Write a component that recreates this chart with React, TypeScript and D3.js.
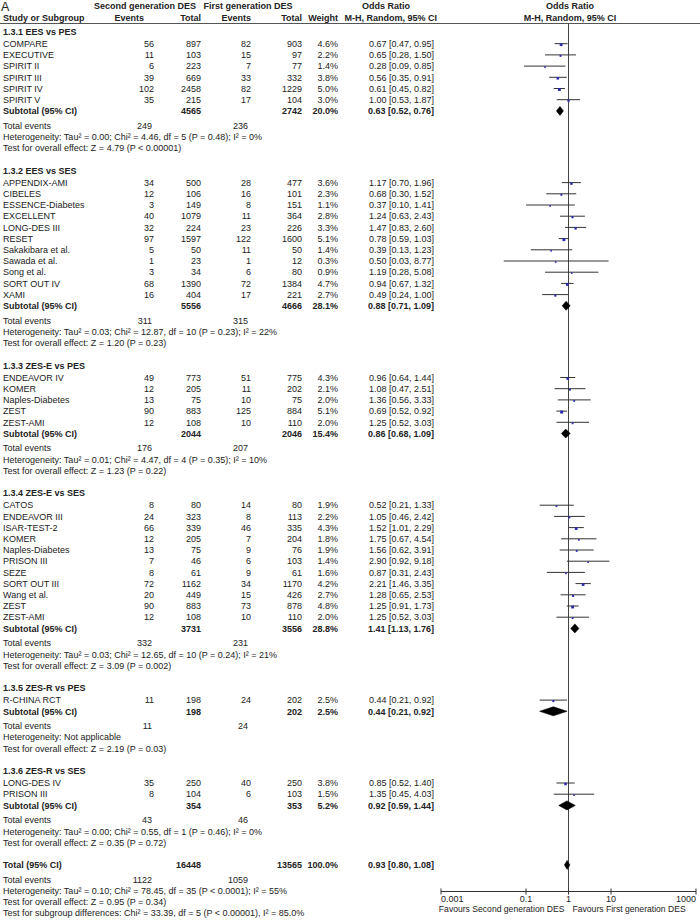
import React from 'react';
import * as d3 from 'd3';

// subgroup titles
const groupTitles = [
  '1.3.1 EES vs PES',
  '1.3.2 EES vs SES',
  '1.3.3 ZES-E vs PES',
  '1.3.4 ZES-E vs SES',
  '1.3.5 ZES-R vs PES',
  '1.3.6 ZES-R vs SES',
];

const studyNames = [
  ['COMPARE', 'EXECUTIVE', 'SPIRIT II', 'SPIRIT III', 'SPIRIT IV', 'SPIRIT V'],
  ['APPENDIX-AMI', 'CIBELES', 'ESSENCE-Diabetes', 'EXCELLENT', 'LONG-DES III', 'RESET',
    'Sakakibara et al.', 'Sawada et al.', 'Song et al.', 'SORT OUT IV', 'XAMI'],
  ['ENDEAVOR IV', 'KOMER', 'Naples-Diabetes', 'ZEST', 'ZEST-AMI'],
  ['CATOS', 'ENDEAVOR III', 'ISAR-TEST-2', 'KOMER', 'Naples-Diabetes', 'PRISON III', 'SEZE',
    'SORT OUT III', 'Wang et al.', 'ZEST', 'ZEST-AMI'],
  ['R-CHINA RCT'],
  ['LONG-DES IV', 'PRISON III'],
];

// second generation DES
const eventsSecond = [
  [56, 11, 6, 39, 102, 35],
  [34, 12, 3, 40, 32, 97, 5, 1, 3, 68, 16],
  [49, 12, 13, 90, 12],
  [8, 24, 66, 12, 13, 7, 8, 72, 20, 90, 12],
  [11],
  [35, 8],
];
const totalSecond = [
  [897, 103, 223, 669, 2458, 215],
  [500, 106, 149, 1079, 224, 1597, 50, 23, 34, 1390, 404],
  [773, 205, 75, 883, 108],
  [80, 323, 339, 205, 75, 46, 61, 1162, 449, 883, 108],
  [198],
  [250, 104],
];

// first generation DES
const eventsFirst = [
  [82, 15, 7, 33, 82, 17],
  [28, 16, 8, 11, 23, 122, 11, 1, 6, 72, 17],
  [51, 11, 10, 125, 10],
  [14, 8, 46, 7, 9, 6, 9, 34, 15, 73, 10],
  [24],
  [40, 6],
];
const totalFirst = [
  [903, 97, 77, 332, 1229, 104],
  [477, 101, 151, 364, 226, 1600, 50, 12, 80, 1384, 221],
  [775, 202, 75, 884, 110],
  [80, 113, 335, 204, 76, 103, 61, 1170, 426, 878, 110],
  [202],
  [250, 103],
];

const weights = [
  [4.6, 2.2, 1.4, 3.8, 5.0, 3.0],
  [3.6, 2.3, 1.1, 2.8, 3.3, 5.1, 1.4, 0.3, 0.9, 4.7, 2.7],
  [4.3, 2.1, 2.0, 5.1, 2.0],
  [1.9, 2.2, 4.3, 1.8, 1.9, 1.4, 1.6, 4.2, 2.7, 4.8, 2.0],
  [2.5],
  [3.8, 1.5],
];

const oddsRatio = [
  [0.67, 0.65, 0.28, 0.56, 0.61, 1.0],
  [1.17, 0.68, 0.37, 1.24, 1.47, 0.78, 0.39, 0.5, 1.19, 0.94, 0.49],
  [0.96, 1.08, 1.36, 0.69, 1.25],
  [0.52, 1.05, 1.52, 1.75, 1.56, 2.9, 0.87, 2.21, 1.28, 1.25, 1.25],
  [0.44],
  [0.85, 1.35],
];
const ciLower = [
  [0.47, 0.28, 0.09, 0.35, 0.45, 0.53],
  [0.7, 0.3, 0.1, 0.63, 0.83, 0.59, 0.13, 0.03, 0.28, 0.67, 0.24],
  [0.64, 0.47, 0.56, 0.52, 0.52],
  [0.21, 0.46, 1.01, 0.67, 0.62, 0.92, 0.31, 1.46, 0.65, 0.91, 0.52],
  [0.21],
  [0.52, 0.45],
];
const ciUpper = [
  [0.95, 1.5, 0.85, 0.91, 0.82, 1.87],
  [1.96, 1.52, 1.41, 2.43, 2.6, 1.03, 1.23, 8.77, 5.08, 1.32, 1.0],
  [1.44, 2.51, 3.33, 0.92, 3.03],
  [1.33, 2.42, 2.29, 4.54, 3.91, 9.18, 2.43, 3.35, 2.53, 1.73, 3.03],
  [0.92],
  [1.4, 4.03],
];

// subtotals
const subTotalSecond = [4565, 5556, 2044, 3731, 198, 354];
const subTotalFirst = [2742, 4666, 2046, 3556, 202, 353];
const subWeight = [20.0, 28.1, 15.4, 28.8, 2.5, 5.2];
const subOR = [0.63, 0.88, 0.86, 1.41, 0.44, 0.92];
const subLower = [0.52, 0.71, 0.68, 1.13, 0.21, 0.59];
const subUpper = [0.76, 1.09, 1.09, 1.76, 0.92, 1.44];
const subEventsSecond = [249, 311, 176, 332, 11, 43];
const subEventsFirst = [236, 315, 207, 231, 24, 46];
const heterogeneity = [
  'Heterogeneity: Tau² = 0.00; Chi² = 4.46, df = 5 (P = 0.48); I² = 0%',
  'Heterogeneity: Tau² = 0.03; Chi² = 12.87, df = 10 (P = 0.23); I² = 22%',
  'Heterogeneity: Tau² = 0.01; Chi² = 4.47, df = 4 (P = 0.35); I² = 10%',
  'Heterogeneity: Tau² = 0.03; Chi² = 12.65, df = 10 (P = 0.24); I² = 21%',
  'Heterogeneity: Not applicable',
  'Heterogeneity: Tau² = 0.00; Chi² = 0.55, df = 1 (P = 0.46); I² = 0%',
];
const overallEffect = [
  'Test for overall effect: Z = 4.79 (P < 0.00001)',
  'Test for overall effect: Z = 1.20 (P = 0.23)',
  'Test for overall effect: Z = 1.23 (P = 0.22)',
  'Test for overall effect: Z = 3.09 (P = 0.002)',
  'Test for overall effect: Z = 2.19 (P = 0.03)',
  'Test for overall effect: Z = 0.35 (P = 0.72)',
];

// overall
const totalAll = [16448, 13565];
const totalWeight = 100.0;
const totalCI = [0.93, 0.8, 1.08];
const totalEventsAll = [1122, 1059];
const totalTexts = [
  'Heterogeneity: Tau² = 0.10; Chi² = 78.45, df = 35 (P < 0.0001); I² = 55%',
  'Test for overall effect: Z = 0.95 (P = 0.34)',
  'Test for subgroup differences: Chi² = 33.39, df = 5 (P < 0.00001), I² = 85.0%',
];

const axisTicks = [0.001, 0.1, 1, 10, 1000];
const favours = ['Favours Second generation DES', 'Favours First generation DES'];

const W = 700;
const H = 920;
const FONT = "'Liberation Sans', Arial, sans-serif";
const FS = 9;
const TXT = '#222';

const rowH = 11.2;
const evGap = 3.5;

const col = {
  name: 3,
  evS: 154,
  totS: 201,
  evF: 251,
  totF: 302,
  weight: 338,
  ci: 434,
  evSum: 152,
  evSumF: 248,
};

const x = d3.scaleLog().domain([0.001, 1000]).range([441, 696]);
const fmtW = (v: number) => v.toFixed(1) + '%';
const fmtCI = (o: number, l: number, u: number) => `${o.toFixed(2)} [${l.toFixed(2)}, ${u.toFixed(2)}]`;

type Row = { y: number; kind: string; g: number; i: number };

function buildRows() {
  const rows: Row[] = [];
  let y = 31.5;
  groupTitles.forEach((_, g) => {
    rows.push({ y, kind: 'head', g, i: 0 });
    y += rowH + 1;
    studyNames[g].forEach((__, i) => {
      rows.push({ y, kind: 'study', g, i });
      y += rowH;
    });
    rows.push({ y, kind: 'sub', g, i: 0 });
    y += rowH + evGap;
    rows.push({ y, kind: 'events', g, i: 0 });
    y += rowH;
    rows.push({ y, kind: 'het', g, i: 0 });
    y += rowH;
    rows.push({ y, kind: 'test', g, i: 0 });
    y += rowH * 2;
  });
  rows.push({ y, kind: 'total', g: -1, i: 0 });
  y += rowH + evGap;
  rows.push({ y, kind: 'totalEvents', g: -1, i: 0 });
  totalTexts.forEach((_, i) => {
    y += rowH;
    rows.push({ y, kind: 'totalText', g: -1, i });
  });
  return rows;
}

const T = (props: any) => (
  <text fontFamily={FONT} fontSize={FS} fill={TXT} {...props} />
);

function Diamond({ cy, o, l, u }: { cy: number; o: number; l: number; u: number }) {
  const hh = 4.5;
  const d = `M${x(l)},${cy} L${x(o)},${cy - hh} L${x(u)},${cy} L${x(o)},${cy + hh} Z`;
  return <path d={d} fill="#000" stroke="#000" strokeWidth={0.6} />;
}

export default function App() {
  const rows = buildRows();
  const bl = 3.2; // baseline offset from row centre
  const axisY = 891.5;
  const x1 = x(1);

  return (
    <svg width={W} height={H} viewBox={`0 0 ${W} ${H}`}
      style={{ position: 'absolute', left: 0, top: 0, background: '#fff' }}>
      <rect width={W} height={H} fill="#fff" />
      {/* header */}
      <text x={1} y={10.5} fontFamily={FONT} fontSize={12.5} fill={TXT}>A</text>
      <T x={145} y={9} textAnchor="middle" fontWeight="bold">Second generation DES</T>
      <T x={248} y={9} textAnchor="middle" fontWeight="bold">First generation DES</T>
      <T x={386} y={9} textAnchor="middle" fontWeight="bold">Odds Ratio</T>
      <T x={570} y={9} textAnchor="middle" fontWeight="bold">Odds Ratio</T>
      <T x={col.name} y={21} fontWeight="bold">Study or Subgroup</T>
      <T x={144} y={21} textAnchor="end" fontWeight="bold">Events</T>
      <T x={col.totS} y={21} textAnchor="end" fontWeight="bold">Total</T>
      <T x={col.evF} y={21} textAnchor="end" fontWeight="bold">Events</T>
      <T x={col.totF} y={21} textAnchor="end" fontWeight="bold">Total</T>
      <T x={col.weight} y={21} textAnchor="end" fontWeight="bold">Weight</T>
      <T x={437} y={21} textAnchor="end" fontWeight="bold">M-H, Random, 95% CI</T>
      <T x={570} y={21} textAnchor="middle" fontWeight="bold">M-H, Random, 95% CI</T>
      <line x1={0} x2={W} y1={23.5} y2={23.5} stroke="#555" strokeWidth={1} />

      {/* null line */}
      <line x1={x1} x2={x1} y1={23.5} y2={axisY} stroke="#444" strokeWidth={1} />

      {rows.map((r, k) => {
        const ty = r.y + bl;
        if (r.kind === 'head') {
          return <T key={k} x={col.name} y={ty} fontWeight="bold">{groupTitles[r.g]}</T>;
        }
        if (r.kind === 'study') {
          const g = r.g, i = r.i;
          const w = weights[g][i];
          const s = Math.max(1.6, Math.sqrt(w) * 1.3);
          return (
            <g key={k}>
              <T x={col.name} y={ty}>{studyNames[g][i]}</T>
              <T x={col.evS} y={ty} textAnchor="end">{eventsSecond[g][i]}</T>
              <T x={col.totS} y={ty} textAnchor="end">{totalSecond[g][i]}</T>
              <T x={col.evF} y={ty} textAnchor="end">{eventsFirst[g][i]}</T>
              <T x={col.totF} y={ty} textAnchor="end">{totalFirst[g][i]}</T>
              <T x={col.weight} y={ty} textAnchor="end">{fmtW(w)}</T>
              <T x={col.ci} y={ty} textAnchor="end">{fmtCI(oddsRatio[g][i], ciLower[g][i], ciUpper[g][i])}</T>
              <line x1={x(ciLower[g][i])} x2={x(ciUpper[g][i])} y1={r.y} y2={r.y} stroke="#333" strokeWidth={1} />
              <rect x={x(oddsRatio[g][i]) - s / 2} y={r.y + 1 - s / 2} width={s} height={s} fill="#2b2bb0" />
            </g>
          );
        }
        if (r.kind === 'sub') {
          const g = r.g;
          return (
            <g key={k}>
              <T x={col.name} y={ty} fontWeight="bold">Subtotal (95% CI)</T>
              <T x={col.totS} y={ty} textAnchor="end" fontWeight="bold">{subTotalSecond[g]}</T>
              <T x={col.totF} y={ty} textAnchor="end" fontWeight="bold">{subTotalFirst[g]}</T>
              <T x={col.weight} y={ty} textAnchor="end" fontWeight="bold">{fmtW(subWeight[g])}</T>
              <T x={col.ci} y={ty} textAnchor="end" fontWeight="bold">{fmtCI(subOR[g], subLower[g], subUpper[g])}</T>
              <Diamond cy={r.y} o={subOR[g]} l={subLower[g]} u={subUpper[g]} />
            </g>
          );
        }
        if (r.kind === 'events') {
          const g = r.g;
          return (
            <g key={k}>
              <T x={col.name} y={ty}>Total events</T>
              <T x={col.evSum} y={ty} textAnchor="end">{subEventsSecond[g]}</T>
              <T x={col.evSumF} y={ty} textAnchor="end">{subEventsFirst[g]}</T>
            </g>
          );
        }
        if (r.kind === 'het') return <T key={k} x={col.name} y={ty}>{heterogeneity[r.g]}</T>;
        if (r.kind === 'test') return <T key={k} x={col.name} y={ty}>{overallEffect[r.g]}</T>;
        if (r.kind === 'total') {
          return (
            <g key={k}>
              <T x={col.name} y={ty} fontWeight="bold">Total (95% CI)</T>
              <T x={col.totS} y={ty} textAnchor="end" fontWeight="bold">{totalAll[0]}</T>
              <T x={col.totF} y={ty} textAnchor="end" fontWeight="bold">{totalAll[1]}</T>
              <T x={col.weight} y={ty} textAnchor="end" fontWeight="bold">{fmtW(totalWeight)}</T>
              <T x={col.ci} y={ty} textAnchor="end" fontWeight="bold">{fmtCI(totalCI[0], totalCI[1], totalCI[2])}</T>
              <Diamond cy={r.y} o={totalCI[0]} l={totalCI[1]} u={totalCI[2]} />
            </g>
          );
        }
        if (r.kind === 'totalEvents') {
          return (
            <g key={k}>
              <T x={col.name} y={ty}>Total events</T>
              <T x={col.evSum} y={ty} textAnchor="end">{totalEventsAll[0]}</T>
              <T x={col.evSumF} y={ty} textAnchor="end">{totalEventsAll[1]}</T>
            </g>
          );
        }
        return <T key={k} x={col.name} y={ty}>{totalTexts[r.i]}</T>;
      })}

      {/* axis */}
      <line x1={x(0.001)} x2={x(1000)} y1={axisY} y2={axisY} stroke="#333" strokeWidth={1} />
      {axisTicks.map((t, i) => (
        <g key={t}>
          <line x1={x(t)} x2={x(t)} y1={axisY - 3} y2={axisY + 3} stroke="#333" strokeWidth={1} />
          <T x={x(t)} y={axisY + 10}
            textAnchor={i === 0 ? 'start' : i === axisTicks.length - 1 ? 'end' : 'middle'}>
            {String(t)}
          </T>
        </g>
      ))}
      <T x={x1 - 4} y={axisY + 20} textAnchor="end" fontSize={8.6}>{favours[0]}</T>
      <T x={x1 + 4} y={axisY + 20} textAnchor="start" fontSize={8.6}>{favours[1]}</T>
    </svg>
  );
}
